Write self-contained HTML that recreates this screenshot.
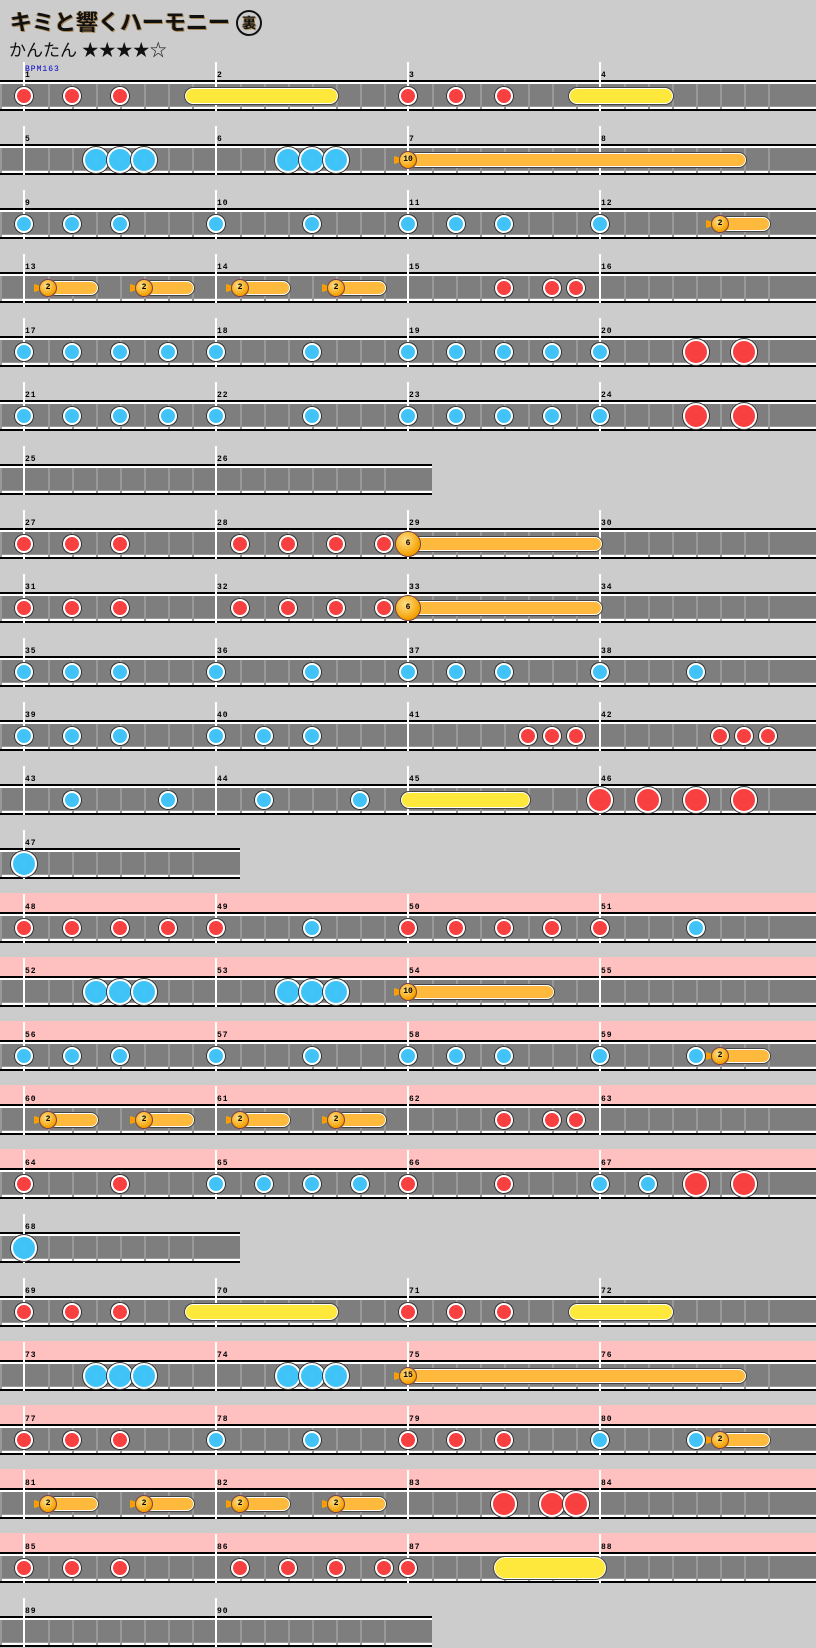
<!DOCTYPE html>
<html><head><meta charset="utf-8"><style>
body{margin:0;width:816px;height:1648px;background:#cccccc;position:relative;overflow:hidden;font-family:"Liberation Sans","Noto Sans CJK JP",sans-serif}
.a{position:absolute}
.n{position:absolute;border-radius:50%;border:2px solid #fff;box-shadow:0 0 0 1px #333;box-sizing:border-box}
.lbl{position:absolute;font:bold 8px "Liberation Mono",monospace;color:#000;letter-spacing:1px}
.roll{position:absolute;border-radius:10px;border:1px solid #444;box-shadow:inset 0 0 0 1px #fff;box-sizing:border-box}
.bh{position:absolute;border-radius:50%;background:radial-gradient(circle at 40% 35%,#ffe08a,#f5a000 70%,#c07000);border:1px solid #744;box-sizing:border-box;font:bold 8px "Liberation Mono",monospace;text-align:center;color:#000}
</style></head><body>
<div class="a" style="left:10px;top:5px;font-size:22px;font-weight:bold;color:#111;text-shadow:1px 1px 0 #a85,-1px 0 0 #a85">キミと響くハーモニー <span style="display:inline-block;width:22px;height:22px;border:2px solid #111;border-radius:50%;font-size:14px;line-height:22px;text-align:center;vertical-align:2px">裏</span></div>
<div class="a" style="left:9px;top:36px;font-size:17px;color:#111">かんたん ★★★★☆</div>
<div class="a" style="left:25px;top:65px;font:8px 'Liberation Mono',monospace;color:#00c;letter-spacing:1px">BPM163</div>
<div id="c"></div>
<script>
var C=document.getElementById('c'),h='';
function d(s){h+=s}
var rows=[
[4,1,0],[4,5,0],[4,9,0],[4,13,0],[4,17,0],[4,21,0],[2,25,0],[4,27,0],[4,31,0],[4,35,0],[4,39,0],[4,43,0],[1,47,0],
[4,48,1],[4,52,1],[4,56,1],[4,60,1],[4,64,1],[1,68,0],[4,69,0],[4,73,1],[4,77,1],[4,81,1],[4,85,1],[2,89,0]];
var S=1.0515;
// notes: r/b small, R/B big
var N={
0:[['r',0],['r',2],['r',4],['r',16],['r',18],['r',20],['y',175,322],['y',540,641]],
1:[['B',3],['B',4],['B',5],['B',11],['B',12],['B',13],['o',16,710,10]],
2:[['b',0],['b',2],['b',4],['b',8],['b',12],['b',16],['b',18],['b',20],['b',24],['o',29,733,2]],
3:[['o',1,94,2],['o',5,185,2],['o',9,277,2],['o',13,368,2],['r',20],['r',22],['r',23]],
4:[['b',0],['b',2],['b',4],['b',6],['b',8],['b',12],['b',16],['b',18],['b',20],['b',22],['b',24],['R',28],['R',30]],
5:[['b',0],['b',2],['b',4],['b',6],['b',8],['b',12],['b',16],['b',18],['b',20],['b',22],['b',24],['R',28],['R',30]],
7:[['r',0],['r',2],['r',4],['r',9],['r',11],['r',13],['r',15],['O',16,573,6]],
8:[['r',0],['r',2],['r',4],['r',9],['r',11],['r',13],['r',15],['O',16,573,6]],
9:[['b',0],['b',2],['b',4],['b',8],['b',12],['b',16],['b',18],['b',20],['b',24],['b',28]],
10:[['b',0],['b',2],['b',4],['b',8],['b',10],['b',12],['r',21],['r',22],['r',23],['r',29],['r',30],['r',31]],
11:[['b',2],['b',6],['b',10],['b',14],['y',380,505],['R',24],['R',26],['R',28],['R',30]],
12:[['B',0]],
13:[['r',0],['r',2],['r',4],['r',6],['r',8],['b',12],['r',16],['r',18],['r',20],['r',22],['r',24],['b',28]],
14:[['B',3],['B',4],['B',5],['B',11],['B',12],['B',13],['o',16,528,10]],
15:[['b',0],['b',2],['b',4],['b',8],['b',12],['b',16],['b',18],['b',20],['b',24],['b',28],['o',29,733,2]],
16:[['o',1,94,2],['o',5,185,2],['o',9,277,2],['o',13,368,2],['r',20],['r',22],['r',23]],
17:[['r',0],['r',4],['b',8],['b',10],['b',12],['b',14],['r',16],['r',20],['b',24],['b',26],['R',28],['R',30]],
18:[['B',0]],
19:[['r',0],['r',2],['r',4],['r',16],['r',18],['r',20],['y',175,322],['y',540,641]],
20:[['B',3],['B',4],['B',5],['B',11],['B',12],['B',13],['o',16,710,15]],
21:[['r',0],['r',2],['r',4],['b',8],['b',12],['r',16],['r',18],['r',20],['b',24],['b',28],['o',29,733,2]],
22:[['o',1,94,2],['o',5,185,2],['o',9,277,2],['o',13,368,2],['R',20],['R',22],['R',23]],
23:[['r',0],['r',2],['r',4],['r',9],['r',11],['r',13],['r',15],['r',16],['Y',469,577]]
};
rows.forEach(function(r,i){
 var c=96+64*i, w=r[0]==4?816:24+192*r[0]+24;
 if(r[2])d('<div class="a" style="left:0;top:'+(c-35)+'px;width:816px;height:19px;background:#ffc0c0"></div>');
 d('<div class="a" style="left:0;top:'+(c-16)+'px;width:'+w+'px;height:2px;background:#000"></div>');
 d('<div class="a" style="left:0;top:'+(c-14)+'px;width:'+w+'px;height:2px;background:#fff"></div>');
 d('<div class="a" style="left:0;top:'+(c-12)+'px;width:'+w+'px;height:22px;background:#7e7e7e"></div>');
 d('<div class="a" style="left:0;top:'+(c+10)+'px;width:'+w+'px;height:1px;background:#9a9a9a"></div>');
 d('<div class="a" style="left:0;top:'+(c+11)+'px;width:'+w+'px;height:2px;background:#fff"></div>');
 d('<div class="a" style="left:0;top:'+(c+13)+'px;width:'+w+'px;height:2px;background:#000"></div>');
 for(var x=0;x<w;x+=24){ if((x-24)%192!=0)d('<div class="a" style="left:'+x+'px;top:'+(c-12)+'px;width:2px;height:25px;background:#999"></div>');}
 for(var m=0;m<r[0];m++){var lx=24+192*m;
  d('<div class="a" style="left:'+(lx-1)+'px;top:'+(c-34)+'px;width:2px;height:49px;background:#fff"></div>');
  d('<div class="lbl" style="left:'+(lx+1)+'px;top:'+(c-25)+'px">'+(r[1]+m)+'</div>');}
 var ns=N[i]||[];
 ns.forEach(function(n){
  var t=n[0];
  if(t=='y'||t=='Y'){var L=n[1]*S,R=n[2]*S,hh=t=='Y'?24:18;
   d('<div class="roll" style="left:'+L+'px;top:'+(c-hh/2)+'px;width:'+(R-L)+'px;height:'+hh+'px;background:#ffe83c;border-radius:'+hh/2+'px"></div>');return;}
  var X=24+24*n[1];
  if(t=='o'||t=='O'){var R=n[2]*S,r2=t=='O'?12:8;
   d('<div class="roll" style="left:'+X+'px;top:'+(c-8)+'px;width:'+(R-X)+'px;height:16px;background:#ffb93c;border-radius:8px"></div>');
   if(t=='o')d('<div class="a" style="left:'+(X-14)+'px;top:'+(c-4)+'px;width:8px;height:8px;background:#f5a000;clip-path:polygon(0 0,100% 30%,100% 70%,0 100%)"></div>');
   d('<div class="bh" style="left:'+(X-r2-1)+'px;top:'+(c-r2-1)+'px;width:'+(2*r2+2)+'px;height:'+(2*r2+2)+'px;line-height:'+(2*r2)+'px">'+n[3]+'</div>');return;}
  var big=(t=='R'||t=='B'),rad=big?13:9,col=(t=='r'||t=='R')?'#f84040':'#40c4f8';
  d('<div class="n" style="left:'+(X-rad)+'px;top:'+(c-rad)+'px;width:'+2*rad+'px;height:'+2*rad+'px;background:'+col+'"></div>');
 });
});
C.innerHTML=h;
</script>
</body></html>
